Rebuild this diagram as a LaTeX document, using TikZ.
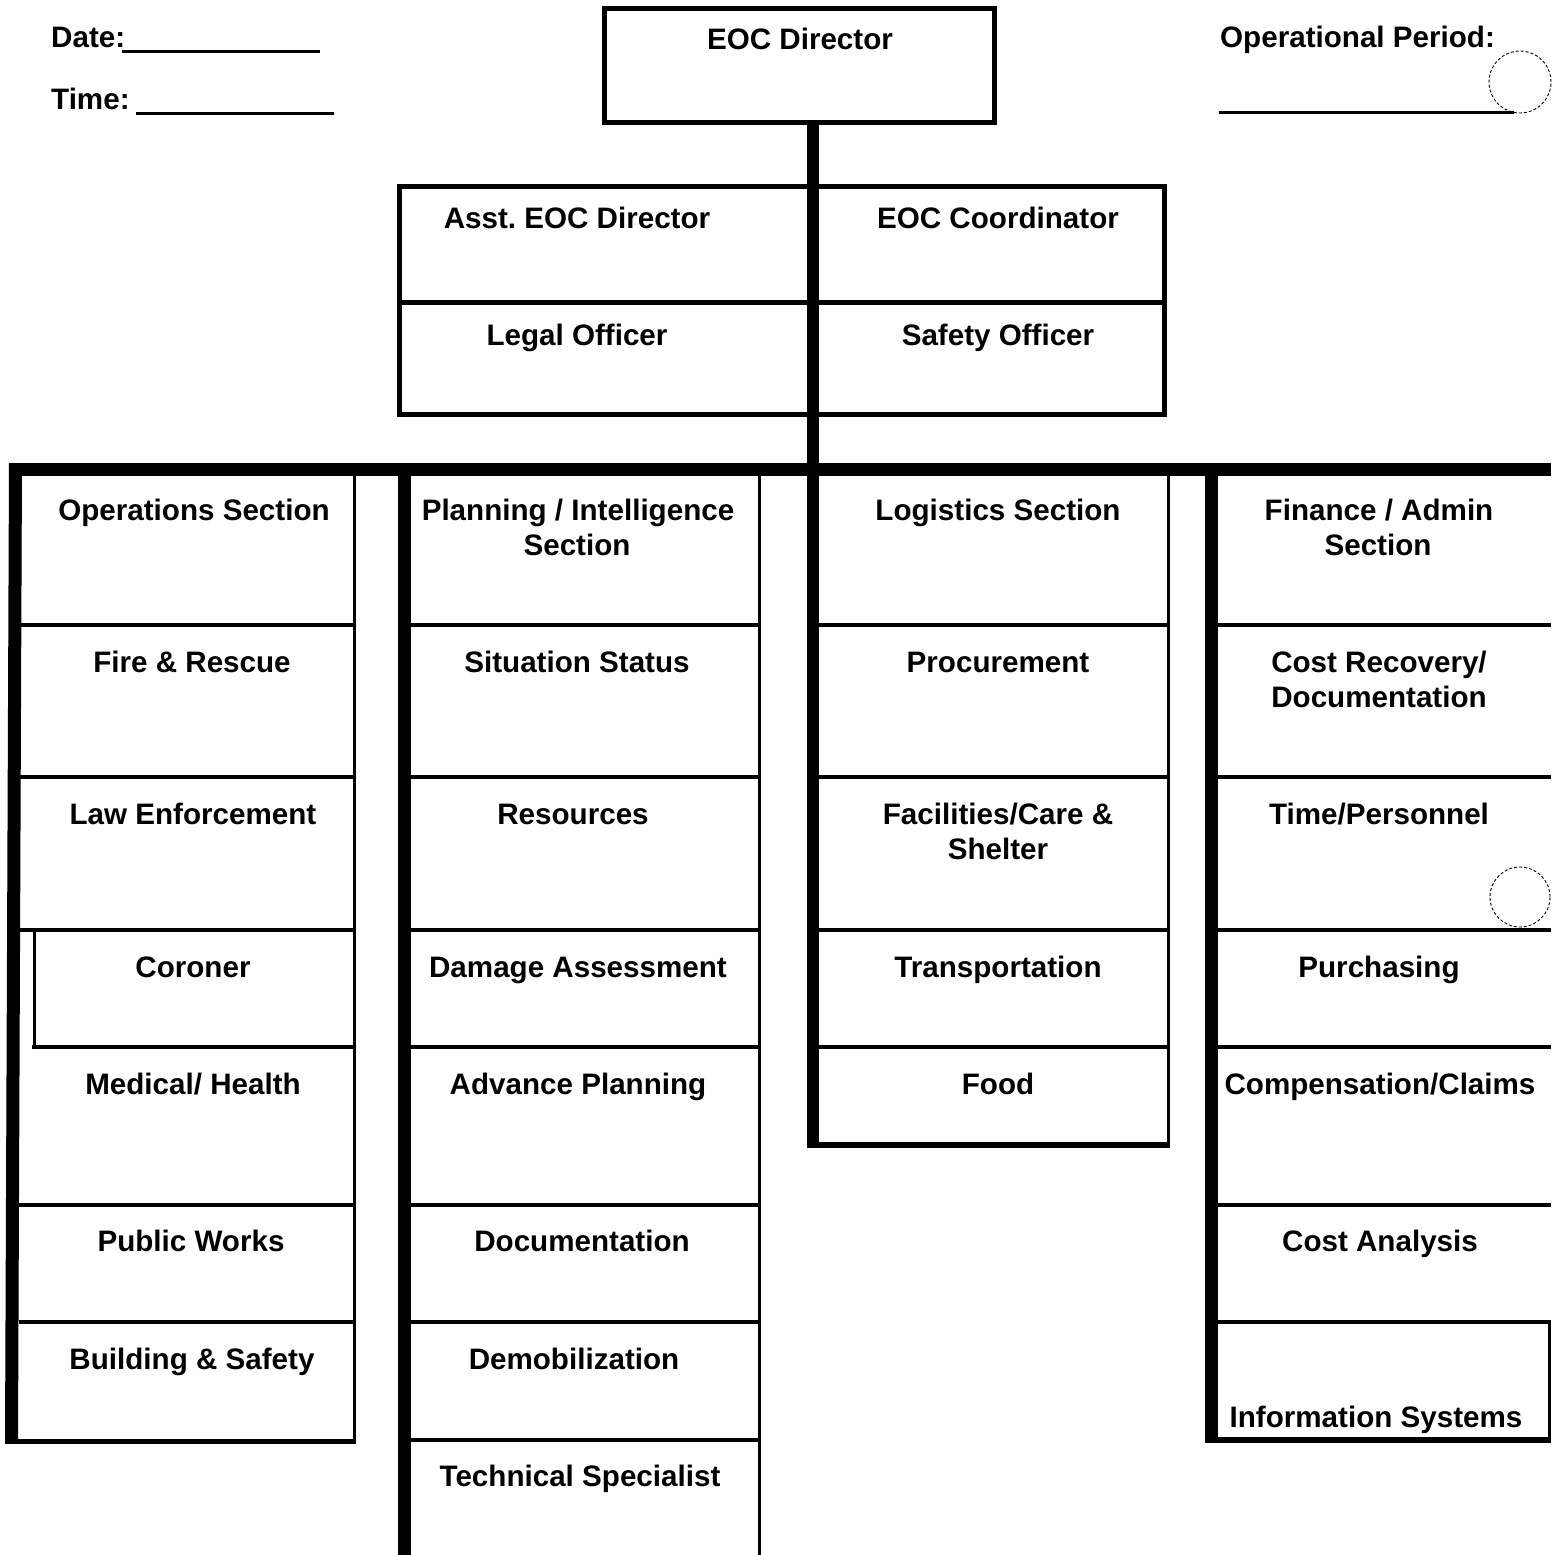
\documentclass[tikz,border=0pt]{standalone}
\usepackage{fontspec}
\setmainfont{Liberation Sans}
\frenchspacing
\begin{document}
\begin{tikzpicture}[x=1pt,y=-1pt,
  lbl/.style={font=\fontsize{29.6}{35}\selectfont\bfseries, anchor=base, inner sep=0pt},
  lblw/.style={lbl, anchor=base west},
  bar/.style={fill=black, draw=none},
  boxline/.style={line width=5pt},
  rowline/.style={line width=4.5pt},
  thinline/.style={line width=2.5pt},
  uline/.style={line width=3pt},
  punch/.style={line width=0.9pt, dash pattern=on 3pt off 2pt}]
\useasboundingbox (0,0) rectangle (1551,1555);

% header texts
\node[lblw] (date) at (51,48) {Date:};
\node[lblw] (time) at (51,110) {Time:};
\node[lblw] (opper) at (1220,48) {Operational Period:};
\draw[uline] (122,51.5) -- (320,51.5);
\draw[uline] (136,113.5) -- (334,113.5);
\draw[uline] (1219,112) -- (1514,112);
\draw[punch] (1520,82) circle (31pt);
\draw[punch] (1520,897) circle (30pt);

% EOC director box and command staff box
\draw[boxline] (604.5,8.5) rectangle (994.5,122.5);
\draw[boxline] (399.5,186.5) rectangle (1164.5,414.5);
\draw[boxline] (399,302.5) -- (1165,302.5);

% thick bars
\fill[bar] (806.5,122) rectangle (819,1148);
\fill[bar] (9,463) rectangle (1551,476);
\fill[bar] (9,463) -- (22,463) -- (18,1443) -- (5,1443) -- cycle;
\fill[bar] (398,463) rectangle (411,1555);
\fill[bar] (1205,463) rectangle (1218,1442);

% column 1 (Operations)
\foreach \yy in {625,777,930,1205,1322} \draw[rowline] (19,\yy) -- (355,\yy);
\draw[rowline] (32,1047) -- (355,1047);
\draw[boxline] (5,1441) -- (356,1441);
\draw[thinline] (354.5,475) -- (354.5,1443);
\draw[line width=3pt] (34,930) -- (34,1049);

% column 2 (Planning)
\foreach \yy in {625,777,930,1047,1205,1322,1440} \draw[rowline] (410,\yy) -- (760,\yy);
\draw[thinline] (759.5,475) -- (759.5,1555);

% column 3 (Logistics)
\foreach \yy in {625,777,930,1047} \draw[rowline] (818,\yy) -- (1169,\yy);
\draw[line width=6pt] (806.5,1145) -- (1170,1145);
\draw[thinline] (1168.5,475) -- (1168.5,1148);

% column 4 (Finance)
\foreach \yy in {625,777,930,1047,1205,1322} \draw[rowline] (1217,\yy) -- (1551,\yy);
\draw[line width=6pt] (1205,1440) -- (1551,1440);
\draw[thinline] (1549.5,1322) -- (1549.5,1442);

% texts
\node[lbl] (dir) at (800,49) {EOC Director};
\node[lbl] (asst) at (577,228) {Asst. EOC Director};
\node[lbl] (coord) at (998,228) {EOC Coordinator};
\node[lbl] (legal) at (577,345) {Legal Officer};
\node[lbl] (safety) at (998,345) {Safety Officer};

\node[lbl] (ops) at (194,520) {Operations Section};
\node[lbl] (plan1) at (578,520) {Planning / Intelligence};
\node[lbl] (plan2) at (577,555) {Section};
\node[lbl] (log) at (998,520) {Logistics Section};
\node[lbl] (fin1) at (1379,520) {Finance / Admin};
\node[lbl] (fin2) at (1378,555) {Section};

\node[lbl] (fire) at (192,672) {Fire \& Rescue};
\node[lbl] (sit) at (577,672) {Situation Status};
\node[lbl] (proc) at (998,672) {Procurement};
\node[lbl] (cost1) at (1379,672) {Cost Recovery/};
\node[lbl] (cost2) at (1379,707) {Documentation};

\node[lbl] (law) at (193,824) {Law Enforcement};
\node[lbl] (res) at (573,824) {Resources};
\node[lbl] (fac1) at (998,824) {Facilities/Care \&};
\node[lbl] (fac2) at (998,859) {Shelter};
\node[lbl] (timep) at (1379,824) {Time/Personnel};

\node[lbl] (cor) at (193,977) {Coroner};
\node[lbl] (dam) at (578,977) {Damage Assessment};
\node[lbl] (trans) at (998,977) {Transportation};
\node[lbl] (purch) at (1379,977) {Purchasing};

\node[lbl] (med) at (193,1094) {Medical/ Health};
\node[lbl] (adv) at (578,1094) {Advance Planning};
\node[lbl] (food) at (998,1094) {Food};
\node[lbl] (comp) at (1380,1094) {Compensation/Claims};

\node[lbl] (pw) at (191,1251) {Public Works};
\node[lbl] (doc) at (582,1251) {Documentation};
\node[lbl] (ca) at (1380,1251) {Cost Analysis};

\node[lbl] (bs) at (192,1369) {Building \& Safety};
\node[lbl] (demob) at (574,1369) {Demobilization};
\node[lbl] (info) at (1376,1427) {Information Systems};

\node[lbl] (tech) at (580,1486) {Technical Specialist};
\end{tikzpicture}
\end{document}
